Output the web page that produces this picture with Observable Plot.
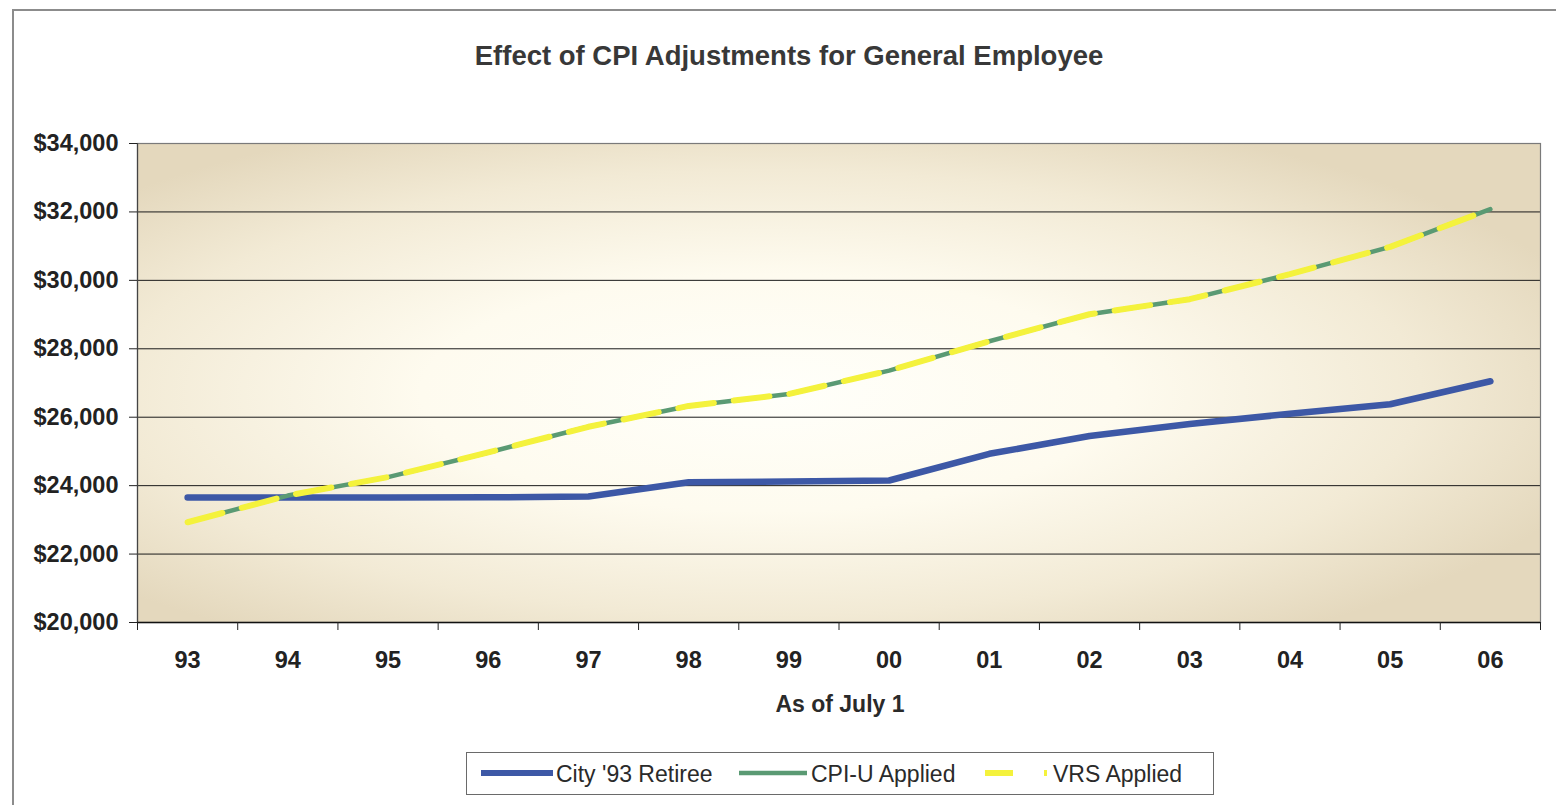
<!DOCTYPE html>
<html>
<head>
<meta charset="utf-8">
<script src="https://cdn.jsdelivr.net/npm/d3@7"></script>
<script src="https://cdn.jsdelivr.net/npm/@observablehq/plot@0.6"></script>
<style>
  body { margin: 0; background: #fff; font-family: "Liberation Sans", Arial, sans-serif; }
  #page { position: relative; width: 1556px; height: 805px; overflow: hidden; background: #fff; }
  #border { position: absolute; left: 12px; top: 9px; width: 1700px; height: 1000px;
            border-left: 2px solid #8c8c8c; border-top: 2px solid #8c8c8c; }
  #title { position: absolute; top: 40px; left: 389px; width: 800px; text-align: center; white-space: nowrap;
           font-weight: bold; font-size: 27.5px; color: #383838; }
  #chart { position: absolute; left: 0; top: 110px; }
  #xlabel { position: absolute; top: 691px; left: 740px; width: 200px; text-align: center;
            font-weight: bold; font-size: 23px; color: #2a2a2a; }
  #legend { position: absolute; left: 466px; top: 752px; width: 748px; height: 43px;
            border: 1.5px solid #6a6a6a; box-sizing: border-box; background: #fff; }
  .lg-item { position: absolute; top: 0; height: 40px; }
  .lg-text { position: absolute; top: 8px; font-size: 23px; color: #2a2a2a; white-space: nowrap; }
</style>
</head>
<body>
<div id="page">
  <div id="border"></div>
  <div id="title"></div>
  <div id="chart"></div>
  <div id="xlabel"></div>
  <div id="legend"></div>
</div>
<script>
// ---- Data ----
const titleText = "Effect of CPI Adjustments for General Employee";
const xAxisLabel = "As of July 1";
const years = ["93", "94", "95", "96", "97", "98", "99", "00", "01", "02", "03", "04", "05", "06"];
const city93Retiree = [23650, 23650, 23650, 23660, 23680, 24100, 24120, 24150, 24930, 25450, 25800, 26100, 26380, 27050];
const cpiUApplied   = [22930, 23710, 24250, 24970, 25720, 26330, 26680, 27360, 28220, 29010, 29450, 30180, 30980, 32080];
const vrsApplied    = [22930, 23710, 24250, 24970, 25720, 26330, 26680, 27360, 28220, 29010, 29450, 30180, 30980, 32080];
const yTicks = [20000, 22000, 24000, 26000, 28000, 30000, 32000, 34000];
const seriesNames = ["City '93 Retiree", "CPI-U Applied", "VRS Applied"];
const seriesColors = ["#3d58a6", "#5a9a73", "#f4f23c"];

// ---- Build table ----
const toRows = (vals, s) => vals.map((v, i) => ({i, year: years[i], value: v, series: s}));
const cityRows = toRows(city93Retiree, seriesNames[0]);
const cpiRows = toRows(cpiUApplied, seriesNames[1]);
const vrsRows = toRows(vrsApplied, seriesNames[2]);

document.getElementById("title").textContent = titleText;
document.getElementById("xlabel").textContent = xAxisLabel;

const fmt = d3.format(",");
const idx = d3.range(years.length);
const boundaries = d3.range(-0.5, years.length, 1);

const plot = Plot.plot({
  width: 1556,
  height: 630,
  marginTop: 33,
  marginBottom: 118,
  marginLeft: 137,
  marginRight: 16,
  style: {fontFamily: '"Liberation Sans", Arial, sans-serif', fontSize: "23.5px", fontWeight: "bold", color: "#222", background: "transparent"},
  x: {type: "linear", domain: [-0.5, years.length - 0.5], label: null},
  y: {domain: [20000, 34000], label: null},
  marks: [
    Plot.frame({fill: "url(#plotbg)", stroke: null}),
    Plot.gridY(yTicks, {stroke: "#1a1a1a", strokeOpacity: 1, strokeWidth: 1}),
    Plot.frame({stroke: "#7a7a7a", strokeWidth: 1.2}),
    Plot.ruleX([-0.5], {stroke: "#444", strokeWidth: 1.2}),
    Plot.ruleY([20000], {stroke: "#111", strokeWidth: 1.6}),
    Plot.axisY(yTicks, {tickSize: 8, tickPadding: 11, tickFormat: d => "$" + fmt(d), stroke: "#222"}),
    Plot.axisX(boundaries, {tickSize: 8, tickFormat: () => "", stroke: "#222"}),
    Plot.axisX(idx, {tickSize: 0, tickPadding: 29, tickFormat: i => years[i]}),
    Plot.line(cityRows, {x: "i", y: "value", stroke: seriesColors[0], strokeWidth: 6.5, strokeLinecap: "round", strokeLinejoin: "round"}),
    Plot.line(cpiRows, {x: "i", y: "value", stroke: seriesColors[1], strokeWidth: 4.5, strokeLinejoin: "round"}),
    Plot.line(vrsRows, {x: "i", y: "value", stroke: seriesColors[2], strokeWidth: 6, strokeDasharray: "36,20", strokeLinejoin: "round"})
  ]
});

// gradient background for plot area
const defs = d3.select(plot).insert("defs", ":first-child");
const grad = defs.append("radialGradient").attr("id", "plotbg")
  .attr("cx", 0.45).attr("cy", 0.52).attr("r", 0.62);
grad.append("stop").attr("offset", "0%").attr("stop-color", "#fffffa");
grad.append("stop").attr("offset", "40%").attr("stop-color", "#fefbef");
grad.append("stop").attr("offset", "75%").attr("stop-color", "#f2ead5");
grad.append("stop").attr("offset", "100%").attr("stop-color", "#e4d8bd");

document.getElementById("chart").appendChild(plot);

// ---- Legend ----
const legend = d3.select("#legend");
const lgLayout = [
  {sx: 14, sw: 72, tx: 89},
  {sx: 271, sw: 70, tx: 344},
  {sx: 517, sw: 64, tx: 586}
];
const lgStyle = [
  {w: 6, dash: null},
  {w: 4.5, dash: null},
  {w: 6, dash: "28,31"}
];
seriesNames.forEach((name, k) => {
  const L = lgLayout[k];
  const s = legend.append("svg").attr("class", "lg-item")
    .style("left", L.sx + "px").attr("width", L.sw).attr("height", 40);
  const ln = s.append("line").attr("x1", 1).attr("x2", L.sw - 1).attr("y1", 20).attr("y2", 20)
    .attr("stroke", seriesColors[k]).attr("stroke-width", lgStyle[k].w).attr("stroke-linecap", k === 0 ? "round" : "butt");
  if (lgStyle[k].dash) ln.attr("stroke-dasharray", lgStyle[k].dash);
  legend.append("div").attr("class", "lg-text").style("left", L.tx + "px").text(name);
});
</script>
</body>
</html>
